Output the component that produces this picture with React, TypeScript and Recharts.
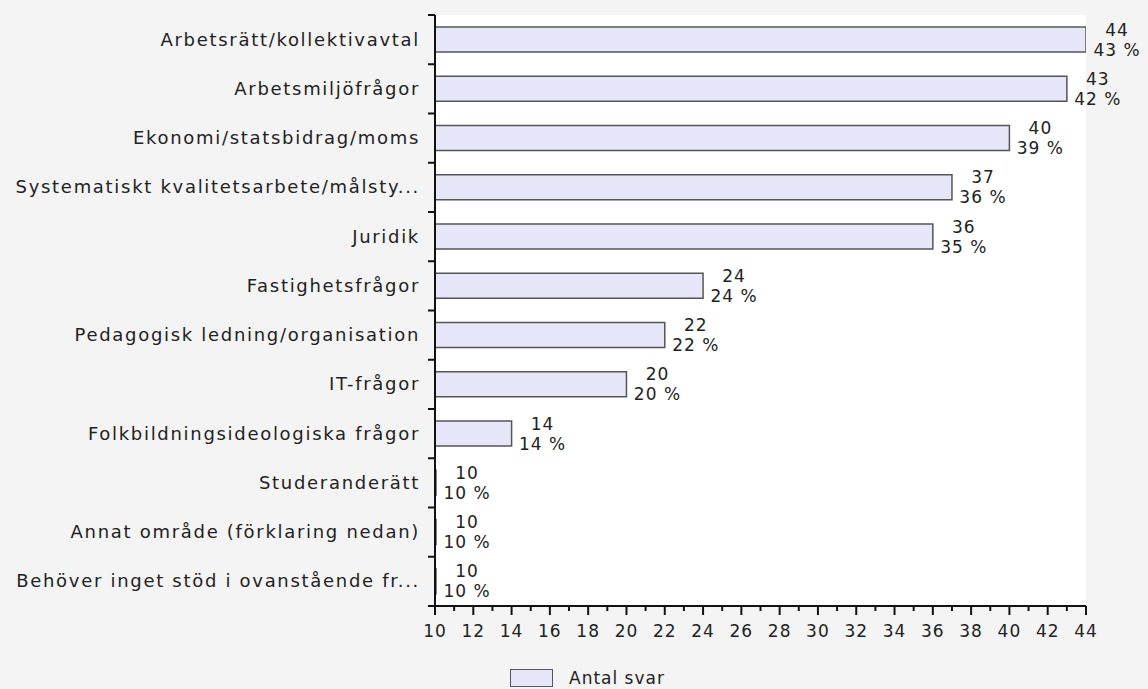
import { BarChart, Bar, XAxis, YAxis, CartesianGrid, LabelList } from "recharts";

const categories = [
  "Arbetsrätt/kollektivavtal",
  "Arbetsmiljöfrågor",
  "Ekonomi/statsbidrag/moms",
  "Systematiskt kvalitetsarbete/målsty...",
  "Juridik",
  "Fastighetsfrågor",
  "Pedagogisk ledning/organisation",
  "IT-frågor",
  "Folkbildningsideologiska frågor",
  "Studeranderätt",
  "Annat område (förklaring nedan)",
  "Behöver inget stöd i ovanstående fr...",
];
const counts = [44, 43, 40, 37, 36, 24, 22, 20, 14, 10, 10, 10];
const percents = [43, 42, 39, 36, 35, 24, 22, 20, 14, 10, 10, 10];
const xTicks = [10, 11, 12, 13, 14, 15, 16, 17, 18, 19, 20, 21, 22, 23, 24, 25, 26, 27, 28, 29, 30, 31, 32, 33, 34, 35, 36, 37, 38, 39, 40, 41, 42, 43, 44];

const data = categories.map((name, i) => ({ name, count: counts[i], pct: percents[i] }));

const FONT = "'DejaVu Sans', Verdana, sans-serif";
const TEXT = "#222";
const BAR_FILL = "#e6e6f8";
const BAR_STROKE = "#555";
const PLOT_TOP = 15;
const PLOT_BOTTOM = 606;
const ROW = (PLOT_BOTTOM - PLOT_TOP) / categories.length;

function CategoryTick(props: { x?: number; y?: number; payload?: { value: string }; index?: number }) {
  const { x = 0, y = 0, payload, index = 0 } = props;
  const axisX = x + 8;
  return (
    <g>
      <line x1={axisX - 7} x2={axisX} y1={y - ROW / 2} y2={y - ROW / 2} stroke="#111" strokeWidth={2} />
      {index === categories.length - 1 && (
        <line x1={axisX - 7} x2={axisX} y1={y + ROW / 2} y2={y + ROW / 2} stroke="#111" strokeWidth={2} />
      )}
      <text x={axisX - 15} y={y} dy={6} textAnchor="end" fontSize={18} letterSpacing={1.7} fontFamily={FONT} fill={TEXT}>
        {payload?.value}
      </text>
    </g>
  );
}

function ValueTick(props: { x?: number; y?: number; payload?: { value: number } }) {
  const { x = 0, y = 0, payload } = props;
  const v = payload?.value ?? 0;
  const major = v % 2 === 0;
  const top = y - 8;
  return (
    <g>
      <line x1={x} x2={x} y1={top} y2={top + (major ? 9 : 5)} stroke="#111" strokeWidth={2} />
      {major && (
        <text x={x} y={top + 31} textAnchor="middle" fontSize={17} letterSpacing={1} fontFamily={FONT} fill={TEXT}>
          {v}
        </text>
      )}
    </g>
  );
}

type LabelProps = { x?: number | string; y?: number | string; width?: number | string; height?: number | string; value?: number | string };

function CountLabel(props: LabelProps) {
  const x = Number(props.x ?? 0) + Number(props.width ?? 0);
  const cy = Number(props.y ?? 0) + Number(props.height ?? 0) / 2;
  return (
    <text x={x + 31} y={cy - 4} textAnchor="middle" fontSize={17} letterSpacing={1} fontFamily={FONT} fill={TEXT}>
      {props.value}
    </text>
  );
}

function PctLabel(props: LabelProps) {
  const x = Number(props.x ?? 0) + Number(props.width ?? 0);
  const cy = Number(props.y ?? 0) + Number(props.height ?? 0) / 2;
  return (
    <text x={x + 31} y={cy + 16} textAnchor="middle" fontSize={17} letterSpacing={1} fontFamily={FONT} fill={TEXT}>
      {props.value} %
    </text>
  );
}

export default function App() {
  return (
    <div style={{ position: "absolute", left: 0, top: 0, width: 1148, height: 689, background: "#f4f4f4", overflow: "hidden" }}>
      <BarChart
        width={1148}
        height={689}
        data={data}
        layout="vertical"
        margin={{ top: PLOT_TOP, right: 62, bottom: 0, left: 0 }}
        barSize={25}
      >
        <CartesianGrid horizontal={false} vertical={false} fill="#ffffff" />
        <XAxis
          type="number"
          domain={[10, 44]}
          ticks={xTicks}
          interval={0}
          tick={<ValueTick />}
          tickLine={false}
          axisLine={{ stroke: "#111", strokeWidth: 2 }}
          height={689 - PLOT_BOTTOM}
          allowDataOverflow
        />
        <YAxis
          type="category"
          dataKey="name"
          width={435}
          interval={0}
          tick={<CategoryTick />}
          tickLine={false}
          axisLine={{ stroke: "#111", strokeWidth: 2 }}
        />
        <Bar dataKey="count" fill={BAR_FILL} stroke={BAR_STROKE} strokeWidth={1.5} minPointSize={1} isAnimationActive={false}>
          <LabelList dataKey="count" content={<CountLabel />} />
          <LabelList dataKey="pct" content={<PctLabel />} />
        </Bar>
      </BarChart>
      <div style={{ position: "absolute", left: 510, top: 668, display: "flex", alignItems: "center", fontFamily: FONT, fontSize: 17, letterSpacing: 1, color: TEXT }}>
        <span style={{ display: "inline-block", width: 41, height: 16, background: BAR_FILL, border: `1.5px solid ${BAR_STROKE}` }} />
        <span style={{ marginLeft: 16 }}>Antal svar</span>
      </div>
    </div>
  );
}
